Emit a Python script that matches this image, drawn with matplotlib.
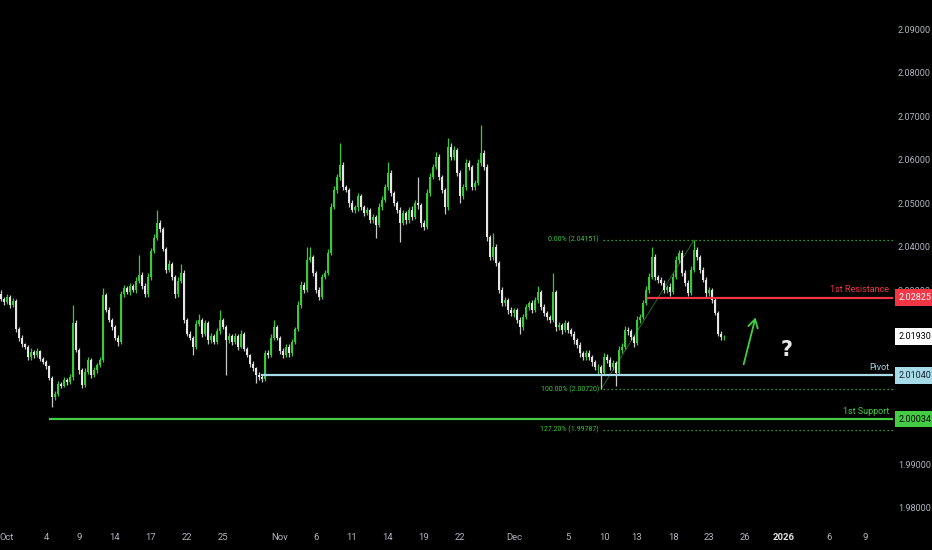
import numpy as np
import matplotlib
matplotlib.use('Agg')
import matplotlib.pyplot as plt
import matplotlib.transforms as mtransforms

plt.rcParams['font.family'] = ['Roboto', 'DejaVu Sans']

## Data #######################
# closes, one per bar (open = previous close)
closes = [
    2.0280, 2.0272, 2.0284, 2.0266, 2.0274, 2.0210, 2.0190, 2.0175, 2.0168, 2.0145,
    2.0158, 2.0150, 2.0160, 2.0142, 2.0135, 2.0125, 2.0098, 2.0055, 2.0062, 2.0085,
    2.0080, 2.0092, 2.0088, 2.0100, 2.0224, 2.0162, 2.0116, 2.0082, 2.0112, 2.0139,
    2.0105, 2.0116, 2.0128, 2.0139, 2.0289, 2.0255, 2.0231, 2.0215, 2.0190, 2.0180,
    2.0290, 2.0305, 2.0295, 2.0310, 2.0300, 2.0320, 2.0335, 2.0310, 2.0290, 2.0330,
    2.0390, 2.0420, 2.0455, 2.0440, 2.0395, 2.0346, 2.0360, 2.0330, 2.0290, 2.0320,
    2.0340, 2.0231, 2.0200, 2.0190, 2.0170, 2.0222, 2.0230, 2.0200, 2.0225, 2.0185,
    2.0195, 2.0180, 2.0205, 2.0230, 2.0215, 2.0185, 2.0195, 2.0180, 2.0195, 2.0170,
    2.0200, 2.0165, 2.0150, 2.0130, 2.0120, 2.0105, 2.0100, 2.0095, 2.0155, 2.0150,
    2.0190, 2.0215, 2.0190, 2.0160, 2.0150, 2.0170, 2.0155, 2.0180, 2.0210, 2.0265,
    2.0312, 2.0300, 2.0369, 2.0375, 2.0340, 2.0300, 2.0285, 2.0330, 2.0340, 2.0385,
    2.0490, 2.0530, 2.0560, 2.0588, 2.0537, 2.0530, 2.0500, 2.0485, 2.0490, 2.0515,
    2.0490, 2.0477, 2.0484, 2.0461, 2.0468, 2.0450, 2.0490, 2.0507, 2.0537, 2.0570,
    2.0523, 2.0500, 2.0484, 2.0454, 2.0477, 2.0461, 2.0484, 2.0468, 2.0500, 2.0495,
    2.0454, 2.0445, 2.0523, 2.0560, 2.0583, 2.0606, 2.0560, 2.0530, 2.0490, 2.0629,
    2.0606, 2.0622, 2.0570, 2.0515, 2.0537, 2.0592, 2.0583, 2.0537, 2.0546, 2.0592,
    2.0615, 2.0583, 2.0422, 2.0376, 2.0400, 2.0362, 2.0300, 2.0270, 2.0277, 2.0254,
    2.0247, 2.0254, 2.0231, 2.0215, 2.0238, 2.0261, 2.0270, 2.0254, 2.0277, 2.0295,
    2.0261, 2.0247, 2.0238, 2.0231, 2.0295, 2.0215, 2.0220, 2.0208, 2.0224, 2.0208,
    2.0200, 2.0185, 2.0173, 2.0155, 2.0146, 2.0155, 2.0146, 2.0135, 2.0123, 2.0123,
    2.0110, 2.0146, 2.0140, 2.0123, 2.0132, 2.0110, 2.0162, 2.0170, 2.0208, 2.0205,
    2.0192, 2.0178, 2.0231, 2.0238, 2.0270, 2.0300, 2.0330, 2.0376, 2.0330, 2.0323,
    2.0317, 2.0300, 2.0307, 2.0295, 2.0330, 2.0369, 2.0385, 2.0340, 2.0317, 2.0293,
    2.0346, 2.0392, 2.0376, 2.0346, 2.0323, 2.0293, 2.0300, 2.0277, 2.0247, 2.0200,
    2.0192, 2.0193]
first_open = 2.0290

# wicks in pips above max(open, close) and below min(open, close)
wick_up = [
    10, 5, 6, 4, 7, 5, 4, 6, 3, 5,
    8, 4, 6, 3, 5, 4, 3, 4, 6, 5,
    4, 7, 5, 6, 41, 6, 4, 5, 8, 6,
    4, 6, 5, 7, 16, 5, 6, 4, 5, 7,
    8, 6, 5, 7, 4, 9, 45, 6, 5, 8,
    7, 9, 29, 6, 5, 4, 8, 5, 4, 9,
    20, 5, 4, 6, 4, 8, 15, 5, 7, 4,
    6, 5, 8, 25, 6, 5, 7, 4, 6, 5,
    9, 4, 5, 3, 6, 4, 7, 5, 8, 6,
    9, 15, 5, 4, 6, 5, 7, 8, 6, 9,
    8, 6, 31, 23, 5, 4, 6, 7, 5, 9,
    10, 8, 7, 50, 6, 5, 4, 7, 6, 9,
    5, 6, 7, 4, 6, 5, 9, 8, 7, 24,
    6, 5, 4, 7, 8, 5, 6, 9, 7, 60,
    5, 6, 10, 8, 7, 12, 6, 5, 4, 21,
    8, 9, 5, 6, 7, 10, 6, 5, 8, 9,
    65, 6, 7, 5, 30, 6, 4, 7, 6, 5,
    6, 5, 4, 7, 8, 6, 5, 7, 6, 15,
    5, 6, 4, 5, 44, 6, 7, 5, 8, 4,
    5, 6, 4, 7, 5, 8, 6, 4, 5, 6,
    5, 9, 7, 5, 8, 4, 10, 8, 9, 6,
    5, 4, 9, 8, 7, 9, 10, 22, 6, 5,
    7, 6, 5, 8, 9, 10, 8, 6, 5, 7,
    9, 23.1, 6, 5, 7, 6, 8, 5, 6, 4,
    5, 3]
wick_dn = [
    5, 6, 4, 7, 5, 6, 8, 5, 4, 6,
    5, 7, 4, 6, 5, 7, 6, 25, 8, 5,
    6, 4, 7, 5, 6, 5, 8, 7, 5, 6,
    7, 5, 6, 4, 5, 6, 4, 7, 5, 8,
    5, 6, 4, 7, 5, 6, 4, 8, 7, 5,
    6, 4, 5, 7, 6, 8, 5, 6, 9, 5,
    4, 7, 6, 5, 20, 6, 4, 7, 5, 8,
    6, 5, 4, 7, 5, 80, 6, 7, 5, 8,
    4, 6, 5, 7, 6, 19, 8, 7, 5, 6,
    4, 6, 5, 8, 7, 5, 9, 6, 4, 5,
    6, 8, 5, 4, 7, 6, 9, 5, 4, 6,
    5, 4, 6, 7, 8, 5, 9, 6, 7, 8,
    6, 7, 5, 8, 6, 30, 5, 6, 4, 7,
    6, 8, 7, 44, 5, 9, 6, 7, 5, 8,
    9, 7, 5, 6, 4, 5, 8, 6, 15, 5,
    6, 7, 8, 15, 5, 6, 7, 8, 6, 5,
    6, 7, 9, 8, 6, 7, 8, 6, 7, 9,
    6, 8, 7, 15, 6, 5, 7, 6, 5, 6,
    7, 6, 8, 7, 5, 9, 6, 8, 5, 7,
    6, 8, 7, 9, 6, 7, 8, 9, 7, 18,
    38, 6, 7, 8, 6, 30, 5, 7, 6, 8,
    7, 9, 5, 6, 4, 5, 6, 4, 7, 6,
    5, 7, 6, 8, 5, 4, 6, 7, 8, 6,
    5, 4, 6, 7, 5, 8, 6, 7, 5, 6,
    7, 6]

# key levels
resistance = 2.02825
pivot = 2.01040
support = 2.00034
last_price = 2.01930
fib_hi, fib_lo = 2.04151, 2.00720
fib_ext = 1.99787
fib_hi_bar, fib_lo_bar = 231, 200

# axis labels
x_tick_bars = [2, 15, 26, 38, 50, 62, 74, 93, 105, 117, 129, 141, 153, 171, 189, 201, 212, 224, 236, 248, 261, 276, 288]
x_tick_labels = ['Oct', '4', '9', '14', '17', '22', '25', 'Nov', '6', '11', '14', '19', '22',
                 'Dec', '5', '10', '13', '18', '23', '26', '2026', '6', '9']
y_ticks = [1.98, 1.99, 2.00, 2.01, 2.02, 2.03, 2.04, 2.05, 2.06, 2.07, 2.08, 2.09]
###############################

c = np.array(closes)
o = np.concatenate([[first_open], c[:-1]])
hi = np.maximum(o, c) + np.array(wick_up) * 1e-4
lo = np.minimum(o, c) - np.array(wick_dn) * 1e-4
idx = np.arange(len(c))
up = c >= o

green = '#3cc83c'
white = '#e6e6e6'
grey = '#b2b5be'

fig = plt.figure(figsize=(9.32, 5.5), dpi=100, facecolor='black')
ax = fig.add_axes([0, 25 / 550, 893 / 932, 525 / 550])
ax.set_facecolor('black')

cols = np.where(up, green, white)
wick_cols = np.where(up, green, '#c8c8c8')
ax.vlines(idx, lo, hi, colors=wick_cols, linewidth=0.9, zorder=3)
body = np.maximum(np.abs(c - o), 0.0001)
ax.bar(idx, body, bottom=np.minimum(o, c), width=0.85, color=cols, linewidth=0, zorder=3)

xmax = 297.3
# fib
ax.plot([fib_lo_bar, fib_hi_bar], [fib_lo, fib_hi], color=green, lw=0.6, alpha=0.6, zorder=2)
for lev, txt in [(fib_hi, '0.00% (2.04151)'), (fib_lo, '100.00% (2.00720)'), (fib_ext, '127.20% (1.99787)')]:
    ax.plot([200.8, xmax], [lev, lev], color=green, lw=0.9, linestyle=(0, (1, 2.2)), zorder=2)
    ax.text(199.3, lev, txt, color=green, fontsize=5, ha='right', va='center')

# levels
ax.plot([215.6, xmax], [resistance, resistance], color='#f23645', lw=1.6, zorder=4)
ax.plot([87, xmax], [pivot, pivot], color='#a8dbe8', lw=1.6, zorder=4)
ax.plot([16.3, xmax], [support, support], color='#44cc44', lw=1.6, zorder=4)
ax.annotate('1st Resistance', (296, resistance), xytext=(0, 2.5), textcoords='offset points',
            color='#f23645', fontsize=6.5, ha='right', va='bottom')
ax.annotate('Pivot', (296, pivot), xytext=(0, 2.5), textcoords='offset points',
            color='#a8dbe8', fontsize=6.5, ha='right', va='bottom')
ax.annotate('1st Support', (296, support), xytext=(0, 2.5), textcoords='offset points',
            color='#44cc44', fontsize=6.5, ha='right', va='bottom')

# arrow and question mark
ax.annotate('', xy=(251.7, 2.0243), xytext=(247.3, 2.0123),
            arrowprops=dict(arrowstyle='->,head_length=0.6,head_width=0.35', color='#3fd13f', lw=1.3))
ax.text(261.7, 2.0162, '?', color='#e6e6e6', fontsize=15, fontweight='bold', ha='center', va='center',
        family='DejaVu Sans')

ax.set_xlim(-0.33, xmax)
ax.set_ylim(1.97598, 2.09667)
for s in ax.spines.values():
    s.set_visible(False)

ax.yaxis.tick_right()
ax.set_yticks(y_ticks)
ax.set_yticklabels(['%.5f' % v for v in y_ticks])
ax.tick_params(axis='y', length=0, pad=3.5, labelcolor=grey, labelsize=6.5)
ax.set_xticks(x_tick_bars)
ax.set_xticklabels(x_tick_labels)
ax.tick_params(axis='x', length=0, pad=6, labelcolor=grey, labelsize=6.8)
for t in ax.get_xticklabels():
    if t.get_text() == '2026':
        t.set_color('#e6e6e6')
        t.set_fontweight('bold')

# price boxes on the axis
trans = mtransforms.blended_transform_factory(ax.transAxes, ax.transData)
for lev, fc, tc in [(resistance, '#f23645', 'white'), (last_price, 'white', 'black'),
                    (pivot, '#a8dbe8', '#102030'), (support, '#44cc44', 'black')]:
    ax.text(1.006, lev, '%.5f' % lev, transform=trans, color=tc, fontsize=6.5, ha='left', va='center',
            clip_on=False, zorder=6,
            bbox=dict(boxstyle='square,pad=0.42', facecolor=fc, edgecolor='none'))

fig.savefig('out.png', dpi=100, facecolor='black')
